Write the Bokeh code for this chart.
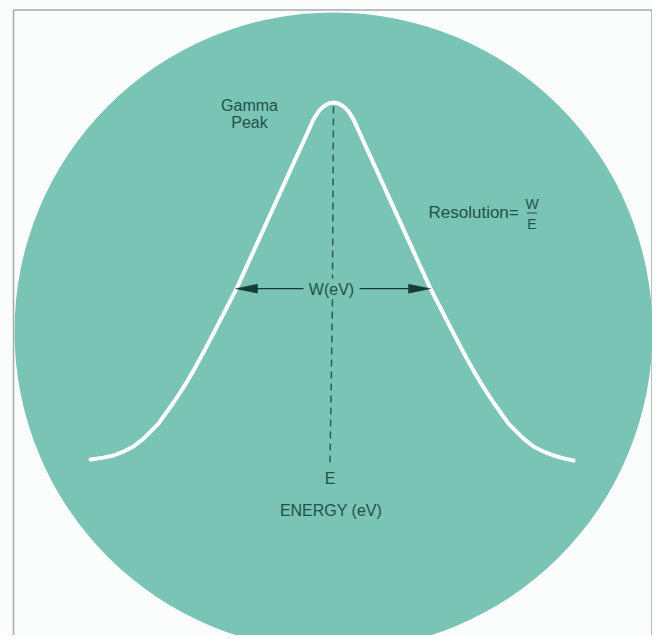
from bokeh.plotting import figure
from bokeh.models import Range1d
from bokeh.core.properties import value
from bokeh.embed import file_html
from bokeh.resources import INLINE

# ---- data (energy offset from peak E, relative counts) ----
energy = [-243, -230, -220, -210, -200, -190, -175, -160, -150, -140, -130, -120, -97, -80, -60,
          -40, -30, -20, -15, -10, -5, 0,
          5, 10, 15, 20, 30, 40, 60, 80, 97, 120, 130, 140, 150, 160, 175, 190, 200, 210,
          220, 230, 240]
counts = [0.003, 0.008, 0.014, 0.025, 0.039, 0.061, 0.103, 0.162, 0.204, 0.251, 0.302, 0.355, 0.480, 0.584, 0.707,
          0.830, 0.891, 0.953, 0.975, 0.989, 0.997, 1.0,
          0.997, 0.989, 0.975, 0.953, 0.891, 0.830, 0.707, 0.584, 0.480, 0.355, 0.302, 0.251, 0.204, 0.162, 0.103, 0.061, 0.039, 0.025,
          0.014, 0.006, 0.0]
fwhm_left, fwhm_right = -98, 97      # W(eV) marks
half_max = 0.48
peak_energy = 0

# ---- layout helpers (picture pixel -> data) ----
def X(px):
    return px - 333.0

def Y(py):
    return (460.0 - py) / 358.0

W_PX, H_PX = 652, 635
p = figure(width=W_PX, height=H_PX, output_backend="svg", toolbar_location=None,
           x_range=Range1d(X(0), X(W_PX)), y_range=Range1d(Y(H_PX), Y(0)),
           min_border=0, background_fill_color="#fbfcfc", border_fill_color="#fbfcfc")
p.axis.visible = False
p.grid.visible = False
p.outline_line_color = None

# frame lines
p.multi_line(xs=[[X(13), X(13)], [X(651.5), X(651.5)], [X(13), X(651.5)]],
             ys=[[Y(643), Y(9.5)], [Y(643), Y(9.5)], [Y(9.5), Y(9.5)]],
             line_color="#a9abab", line_width=1.5)

# teal disc
p.ellipse(x=[X(333)], y=[Y(331)], width=[638], height=[638 / 358.0],
          fill_color="#79c4b4", line_color=None)

# dashed centre line at E (interrupted by the W(eV) label)
p.multi_line(xs=[[peak_energy, peak_energy - 1], [peak_energy - 1, peak_energy - 3.5]],
             ys=[[Y(106), Y(278)], [Y(299), Y(462)]],
             line_color="#2f5b52", line_width=1.5, line_dash="7 5")

# gamma peak curve
p.line(x=energy, y=counts, line_color="white", line_width=4,
       line_join="round", line_cap="round")

ink = "#22524a"
arrow_ink = "#163b34"
font = value("Liberation Sans")

# W(eV) arrows: shafts and long narrow heads
p.multi_line(xs=[[X(303), fwhm_left + 15], [X(359), fwhm_right - 15]],
             ys=[[half_max, half_max], [half_max, half_max]],
             line_color=arrow_ink, line_width=1.3)
hw = 4.5 / 358.0
p.patches(xs=[[fwhm_left, fwhm_left + 22, fwhm_left + 22], [fwhm_right, fwhm_right - 22, fwhm_right - 22]],
          ys=[[half_max, half_max + hw, half_max - hw], [half_max, half_max + hw, half_max - hw]],
          fill_color=arrow_ink, line_color=arrow_ink, line_width=0.5)

p.text(x=[X(331)], y=[Y(289)], text=["W(eV)"], text_font=font, text_font_size="16px",
       text_color=ink, text_align="center", text_baseline="middle")

p.text(x=[X(249), X(249)], y=[Y(105), Y(122)], text=["Gamma", "Peak"], text_font=font,
       text_font_size="16px", text_color=ink, text_align="center", text_baseline="middle")

p.text(x=[X(428)], y=[Y(212)], text=["Resolution="], text_font=font, text_font_size="17px",
       text_color=ink, text_align="left", text_baseline="middle")
p.text(x=[X(531.5), X(531.5)], y=[Y(203), Y(223)], text=["W", "E"], text_font=font,
       text_font_size="14px", text_color=ink, text_align="center", text_baseline="middle")
p.line(x=[X(526.5), X(536.5)], y=[Y(212.5), Y(212.5)], line_color=ink, line_width=1)

p.text(x=[X(329.5)], y=[Y(478)], text=["E"], text_font=font, text_font_size="16px",
       text_color=ink, text_align="center", text_baseline="middle")
p.text(x=[X(330.5)], y=[Y(510)], text=["ENERGY (eV)"], text_font=font, text_font_size="16px",
       text_color=ink, text_align="center", text_baseline="middle")

open("out.html", "w").write(file_html(p, INLINE))
